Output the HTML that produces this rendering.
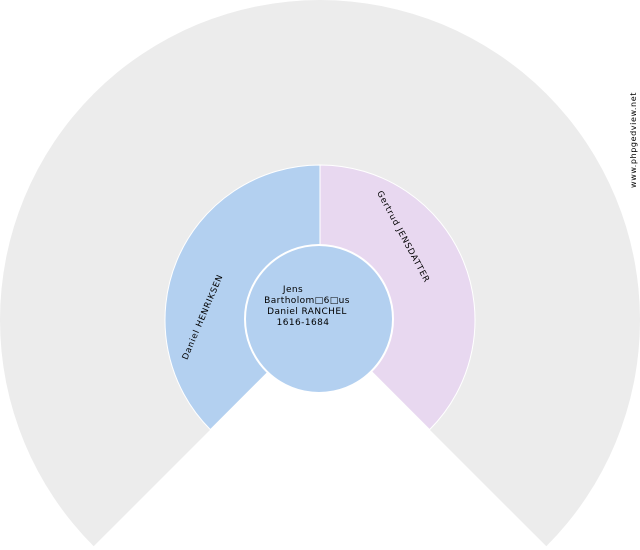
<!DOCTYPE html>
<html><head><meta charset="utf-8"><style>
html,body{margin:0;padding:0;background:#fff;width:640px;height:550px;overflow:hidden}
svg{display:block}
text{font-family:"DejaVu Sans","Liberation Sans",sans-serif;fill:#000}
</style></head><body>
<svg width="640" height="550" viewBox="0 0 640 550" xmlns="http://www.w3.org/2000/svg">
<path d="M320,320 L93.7,546.3 A320,320 0 1 1 546.3,546.3 Z" fill="#ececec"/>
<path d="M320,320 L210.4,429.6 A155,155 0 0 1 320,165 Z" fill="#b3d0f0" stroke="#fff" stroke-width="1"/>
<path d="M320,320 L320,165 A155,155 0 0 1 429.6,429.6 Z" fill="#e8d8f0" stroke="#fff" stroke-width="1"/>
<circle cx="319" cy="319" r="74" fill="#b3d0f0" stroke="#fff" stroke-width="2"/>
<g font-size="9" letter-spacing="0.4">
<text x="293" y="292" text-anchor="middle">Jens</text>
<text x="307" y="303" text-anchor="middle">Bartholom□6□us</text>
<text x="307" y="314" text-anchor="middle">Daniel RANCHEL</text>
<text x="303" y="325" text-anchor="middle">1616-1684</text>
</g>
<text font-size="8.5" letter-spacing="0.8" text-anchor="middle" transform="translate(205,318) rotate(-67)">Daniel HENRIKSEN</text>
<text font-size="8.5" letter-spacing="0.8" text-anchor="middle" transform="translate(401,238) rotate(62)">Gertrud JENSDATTER</text>
<text font-size="8" letter-spacing="0.6" text-anchor="middle" transform="translate(636,140) rotate(-90)">www.phpgedview.net</text>
</svg>
</body></html>
